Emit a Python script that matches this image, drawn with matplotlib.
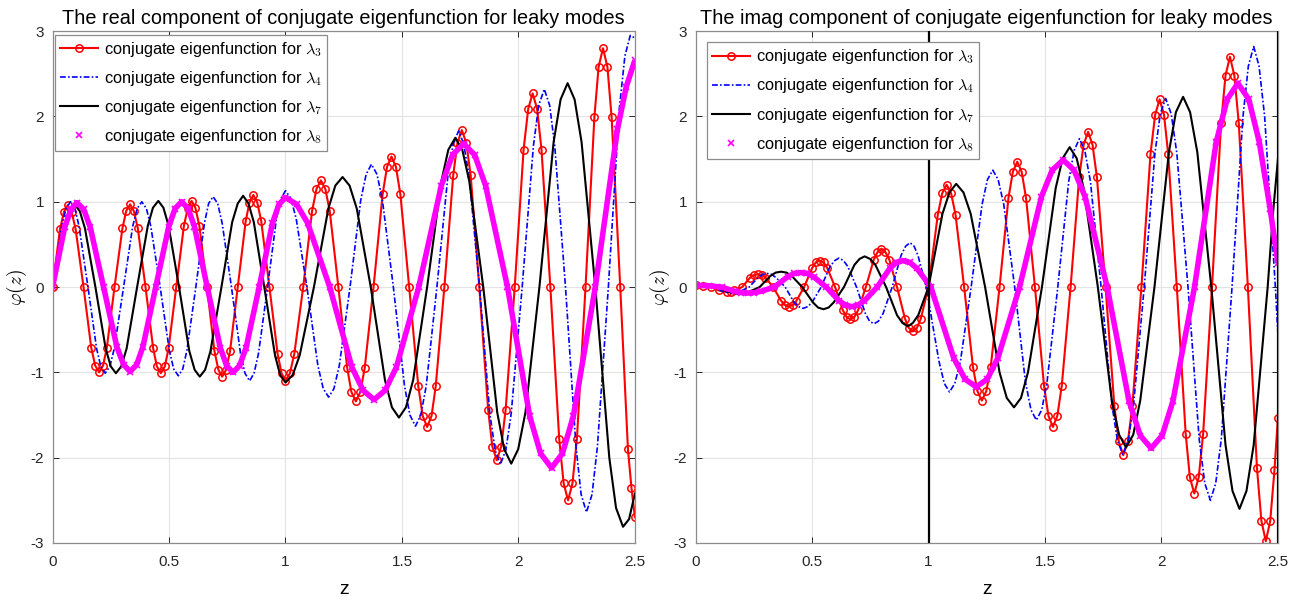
import matplotlib.pyplot as plt
from matplotlib.lines import Line2D

plt.rcParams['font.family'] = ['Liberation Sans', 'DejaVu Sans']
plt.rcParams['mathtext.fontset'] = 'cm'
plt.rcParams['axes.unicode_minus'] = False

# ---- axis setup values ----
x_ticks = [0, 0.5, 1, 1.5, 2, 2.5]
x_tick_labels = ['0', '0.5', '1', '1.5', '2', '2.5']
y_ticks = [-3, -2, -1, 0, 1, 2, 3]
y_tick_labels = ['-3', '-2', '-1', '0', '1', '2', '3']
interfaces = [1.0, 2.5]   # vertical lines in the imag panel

legend_labels = [r'conjugate eigenfunction for $\lambda_3$',
                 r'conjugate eigenfunction for $\lambda_4$',
                 r'conjugate eigenfunction for $\lambda_7$',
                 r'conjugate eigenfunction for $\lambda_8$']

# ---- real component ----
re_z3 = [0, 0.032, 0.049, 0.065, 0.082, 0.099, 0.133, 0.166, 0.183, 0.2,
         0.217, 0.233, 0.266, 0.3, 0.316, 0.333, 0.349, 0.366, 0.399, 0.432, 0.448, 0.465,
         0.482, 0.498, 0.531, 0.564, 0.581, 0.597, 0.613, 0.63, 0.663, 0.695, 0.712, 0.728,
         0.745, 0.762, 0.795, 0.829, 0.845, 0.862, 0.879, 0.896, 0.931, 0.966, 0.983, 1.0,
         1.019, 1.038, 1.076, 1.114, 1.133, 1.152, 1.171, 1.19, 1.227, 1.265, 1.283, 1.302,
         1.321, 1.34, 1.378, 1.417, 1.436, 1.455, 1.474, 1.493, 1.531, 1.57, 1.589, 1.608,
         1.627, 1.645, 1.682, 1.72, 1.738, 1.757, 1.776, 1.795, 1.832, 1.87, 1.888, 1.907,
         1.926, 1.945, 1.984, 2.022, 2.042, 2.061, 2.08, 2.099, 2.137, 2.175, 2.194, 2.213,
         2.232, 2.251, 2.288, 2.326, 2.344, 2.363, 2.382, 2.4, 2.437, 2.47, 2.485, 2.5]
re_v3 = [0, 0.68, 0.88, 0.96, 0.88, 0.68, 0, -0.71, -0.92, -1.0,
         -0.92, -0.71, 0, 0.69, 0.89, 0.97, 0.89, 0.69, 0, -0.72, -0.93, -1.01,
         -0.93, -0.72, 0, 0.72, 0.93, 1.01, 0.93, 0.72, 0, -0.75, -0.97, -1.05,
         -0.97, -0.75, 0, 0.77, 0.99, 1.08, 0.99, 0.77, 0, -0.78, -1.01, -1.1,
         -1.01, -0.78, 0, 0.89, 1.15, 1.25, 1.15, 0.89, 0, -0.95, -1.23, -1.34,
         -1.23, -0.95, 0, 1.09, 1.41, 1.53, 1.41, 1.09, 0, -1.16, -1.51, -1.64,
         -1.51, -1.16, 0, 1.31, 1.69, 1.84, 1.69, 1.31, 0, -1.44, -1.87, -2.03,
         -1.87, -1.44, 0, 1.61, 2.09, 2.27, 2.09, 1.61, 0, -1.78, -2.3, -2.5,
         -2.3, -1.78, 0, 1.99, 2.58, 2.8, 2.58, 1.99, 0, -1.9, -2.35, -2.7]

re_z4 = [0, 0.038, 0.058, 0.077, 0.096, 0.114, 0.152, 0.189, 0.207, 0.226,
         0.246, 0.265, 0.305, 0.344, 0.363, 0.383, 0.403, 0.422, 0.462, 0.501, 0.52, 0.54,
         0.559, 0.577, 0.615, 0.652, 0.67, 0.689, 0.709, 0.728, 0.768, 0.807, 0.826, 0.846,
         0.865, 0.884, 0.923, 0.961, 0.981, 1.0, 1.023, 1.046, 1.092, 1.139, 1.162, 1.185,
         1.208, 1.231, 1.277, 1.323, 1.346, 1.369, 1.393, 1.416, 1.463, 1.511, 1.534, 1.558,
         1.581, 1.604, 1.65, 1.697, 1.72, 1.743, 1.765, 1.788, 1.833, 1.877, 1.9, 1.922,
         1.946, 1.969, 2.016, 2.064, 2.087, 2.111, 2.134, 2.156, 2.202, 2.247, 2.269, 2.292,
         2.316, 2.339, 2.386, 2.433, 2.457, 2.48, 2.5]
re_v4 = [0, 0.7, 0.92, 1.0, 0.92, 0.71, 0, -0.72, -0.93, -1.01,
         -0.93, -0.72, 0, 0.71, 0.92, 1.0, 0.92, 0.71, 0, -0.74, -0.96, -1.04,
         -0.96, -0.74, 0, 0.75, 0.98, 1.06, 0.98, 0.75, 0, -0.78, -1.01, -1.1,
         -1.01, -0.78, 0, 0.8, 1.04, 1.13, 1.04, 0.8, 0, -0.92, -1.19, -1.29,
         -1.19, -0.92, 0, 1.02, 1.32, 1.44, 1.32, 1.02, 0, -1.16, -1.5, -1.63,
         -1.5, -1.16, 0, 1.3, 1.68, 1.83, 1.68, 1.3, 0, -1.48, -1.91, -2.08,
         -1.91, -1.48, 0, 1.65, 2.13, 2.32, 2.13, 1.65, 0, -1.87, -2.43, -2.64,
         -2.43, -1.87, 0, 2.09, 2.71, 2.95, 2.92]

re_z7 = [0, 0.047, 0.071, 0.095, 0.117, 0.139, 0.184, 0.228, 0.25, 0.272,
         0.295, 0.318, 0.363, 0.409, 0.431, 0.454, 0.476, 0.498, 0.543, 0.587, 0.61, 0.632,
         0.655, 0.678, 0.725, 0.771, 0.795, 0.818, 0.841, 0.864, 0.909, 0.955, 0.977, 1.0,
         1.031, 1.061, 1.122, 1.184, 1.214, 1.245, 1.275, 1.306, 1.366, 1.427, 1.457, 1.487,
         1.517, 1.548, 1.608, 1.669, 1.699, 1.729, 1.759, 1.789, 1.849, 1.909, 1.939, 1.969,
         1.999, 2.03, 2.09, 2.151, 2.181, 2.211, 2.241, 2.271, 2.33, 2.39, 2.419, 2.449,
         2.475, 2.5]
re_v7 = [0, 0.69, 0.89, 0.97, 0.89, 0.69, 0, -0.72, -0.93, -1.01,
         -0.93, -0.72, 0, 0.72, 0.93, 1.01, 0.93, 0.72, 0, -0.75, -0.97, -1.05,
         -0.97, -0.75, 0, 0.76, 0.98, 1.07, 0.98, 0.76, 0, -0.8, -1.03, -1.12,
         -1.03, -0.8, 0, 0.92, 1.19, 1.29, 1.19, 0.92, 0, -1.09, -1.41, -1.53,
         -1.41, -1.09, 0, 1.24, 1.61, 1.75, 1.61, 1.24, 0, -1.47, -1.9, -2.07,
         -1.9, -1.47, 0, 1.7, 2.2, 2.39, 2.2, 1.7, 0, -2.0, -2.59, -2.81,
         -2.72, -2.42]

re_z8 = [0, 0.052, 0.079, 0.105, 0.134, 0.162, 0.219, 0.276, 0.305, 0.333,
         0.361, 0.388, 0.443, 0.499, 0.526, 0.554, 0.582, 0.609, 0.664, 0.72, 0.747, 0.775,
         0.803, 0.831, 0.887, 0.944, 0.972, 1.0, 1.048, 1.095, 1.19, 1.285, 1.333, 1.38,
         1.428, 1.476, 1.572, 1.669, 1.717, 1.765, 1.812, 1.859, 1.953, 2.048, 2.095, 2.142,
         2.189, 2.236, 2.33, 2.425, 2.463, 2.5]
re_v8 = [0, 0.7, 0.91, 0.99, 0.91, 0.7, 0, -0.7, -0.91, -0.99,
         -0.91, -0.7, 0, 0.71, 0.92, 1.0, 0.92, 0.71, 0, -0.71, -0.92, -1.0,
         -0.92, -0.71, 0, 0.75, 0.97, 1.05, 0.97, 0.75, 0, -0.94, -1.21, -1.32,
         -1.21, -0.94, 0, 1.19, 1.55, 1.68, 1.55, 1.19, 0, -1.51, -1.95, -2.12,
         -1.95, -1.51, 0, 1.85, 2.35, 2.66]

# ---- imag component ----
im_z3 = [0, 0.034, 0.067, 0.1, 0.134, 0.151, 0.167, 0.2, 0.234, 0.25, 0.267,
         0.284, 0.3, 0.333, 0.367, 0.383, 0.4, 0.417, 0.433, 0.466, 0.5, 0.516, 0.533,
         0.55, 0.566, 0.599, 0.632, 0.648, 0.665, 0.682, 0.698, 0.731, 0.765, 0.781, 0.798,
         0.815, 0.832, 0.865, 0.899, 0.916, 0.933, 0.95, 0.967, 1.0, 1.04, 1.059, 1.078,
         1.097, 1.116, 1.153, 1.191, 1.21, 1.229, 1.248, 1.267, 1.305, 1.343, 1.362, 1.381,
         1.4, 1.419, 1.457, 1.496, 1.515, 1.534, 1.553, 1.572, 1.61, 1.647, 1.666, 1.685,
         1.704, 1.723, 1.76, 1.798, 1.817, 1.836, 1.856, 1.875, 1.914, 1.953, 1.973, 1.992,
         2.011, 2.029, 2.066, 2.104, 2.122, 2.141, 2.16, 2.179, 2.217, 2.256, 2.275, 2.294,
         2.313, 2.332, 2.371, 2.41, 2.429, 2.448, 2.467, 2.485, 2.5]
im_v3 = [0.02, 0.014, 0, -0.04, -0.06, -0.055, -0.04, 0, 0.11, 0.14, 0.15,
         0.14, 0.11, 0, -0.16, -0.21, -0.23, -0.21, -0.16, 0, 0.22, 0.29, 0.31,
         0.29, 0.22, 0, -0.27, -0.35, -0.38, -0.35, -0.27, 0, 0.32, 0.41, 0.45,
         0.41, 0.32, 0, -0.37, -0.48, -0.52, -0.48, -0.37, 0, 0.85, 1.1, 1.2,
         1.1, 0.85, 0, -0.94, -1.22, -1.33, -1.22, -0.94, 0, 1.04, 1.35, 1.47,
         1.35, 1.04, 0, -1.16, -1.51, -1.64, -1.51, -1.16, 0, 1.29, 1.67, 1.82,
         1.67, 1.29, 0, -1.4, -1.81, -1.97, -1.81, -1.4, 0, 1.56, 2.02, 2.2,
         2.02, 1.56, 0, -1.72, -2.23, -2.42, -2.23, -1.72, 0, 1.92, 2.48, 2.7,
         2.48, 1.92, 0, -2.12, -2.74, -2.98, -2.74, -2.15, -1.53]

im_z4 = [0, 0.038, 0.076, 0.114, 0.152, 0.171, 0.191, 0.23, 0.268, 0.288, 0.307,
         0.326, 0.346, 0.385, 0.423, 0.443, 0.462, 0.481, 0.5, 0.539, 0.577, 0.597, 0.616,
         0.635, 0.654, 0.691, 0.729, 0.747, 0.766, 0.785, 0.805, 0.844, 0.882, 0.902, 0.921,
         0.938, 0.955, 0.99, 1.045, 1.068, 1.09, 1.113, 1.137, 1.183, 1.23, 1.253, 1.276,
         1.299, 1.323, 1.37, 1.416, 1.44, 1.463, 1.486, 1.509, 1.555, 1.602, 1.625, 1.648,
         1.671, 1.695, 1.741, 1.788, 1.811, 1.834, 1.857, 1.88, 1.926, 1.972, 1.995, 2.018,
         2.042, 2.066, 2.114, 2.162, 2.186, 2.21, 2.233, 2.257, 2.303, 2.35, 2.373, 2.396,
         2.419, 2.443, 2.489, 2.5]
im_v4 = [0.02, 0.015, 0, -0.05, -0.07, -0.065, -0.05, 0, 0.11, 0.15, 0.16,
         0.15, 0.11, 0, -0.18, -0.23, -0.25, -0.23, -0.18, 0, 0.24, 0.31, 0.34,
         0.31, 0.24, 0, -0.31, -0.4, -0.43, -0.4, -0.31, 0, 0.37, 0.48, 0.52,
         0.48, 0.37, 0, -0.87, -1.13, -1.23, -1.13, -0.87, 0, 0.97, 1.26, 1.37,
         1.26, 0.97, 0, -1.11, -1.44, -1.56, -1.44, -1.11, 0, 1.24, 1.6, 1.74,
         1.6, 1.24, 0, -1.39, -1.8, -1.96, -1.8, -1.39, 0, 1.57, 2.03, 2.21,
         2.03, 1.57, 0, -1.78, -2.3, -2.5, -2.3, -1.78, 0, 2.0, 2.59, 2.82,
         2.59, 2.0, 0, -0.55]

im_z7 = [0, 0.046, 0.092, 0.138, 0.184, 0.207, 0.23, 0.275, 0.321, 0.344, 0.367,
         0.39, 0.413, 0.458, 0.504, 0.526, 0.549, 0.571, 0.593, 0.637, 0.682, 0.704, 0.726,
         0.749, 0.772, 0.818, 0.865, 0.888, 0.911, 0.933, 0.956, 1.0, 1.06, 1.09, 1.119,
         1.15, 1.181, 1.243, 1.305, 1.336, 1.367, 1.397, 1.427, 1.487, 1.546, 1.576, 1.606,
         1.636, 1.666, 1.727, 1.787, 1.818, 1.848, 1.879, 1.909, 1.97, 2.032, 2.062, 2.093,
         2.123, 2.154, 2.214, 2.275, 2.305, 2.335, 2.365, 2.396, 2.456, 2.48, 2.5]
im_v7 = [0.02, 0.015, 0, -0.055, -0.08, -0.075, -0.055, 0, 0.13, 0.17, 0.18,
         0.17, 0.13, 0, -0.18, -0.24, -0.26, -0.24, -0.18, 0, 0.26, 0.33, 0.36,
         0.33, 0.26, 0, -0.33, -0.42, -0.46, -0.42, -0.33, 0, 0.86, 1.11, 1.21,
         1.11, 0.86, 0, -1.0, -1.3, -1.41, -1.3, -1.0, 0, 1.16, 1.51, 1.64,
         1.51, 1.16, 0, -1.33, -1.73, -1.88, -1.73, -1.33, 0, 1.58, 2.05, 2.23,
         2.05, 1.58, 0, -1.85, -2.39, -2.6, -2.39, -1.85, 0, 0.9, 1.5]

im_z8 = [0, 0.056, 0.112, 0.168, 0.196, 0.224, 0.253, 0.281, 0.338, 0.395, 0.424, 0.452,
         0.479, 0.507, 0.561, 0.616, 0.643, 0.67, 0.697, 0.725, 0.78, 0.834, 0.862, 0.889,
         0.919, 0.95, 1.01, 1.108, 1.157, 1.205, 1.252, 1.298, 1.391, 1.485, 1.531, 1.578,
         1.625, 1.672, 1.767, 1.861, 1.909, 1.956, 2.003, 2.049, 2.142, 2.235, 2.282, 2.328,
         2.375, 2.42, 2.467, 2.5]
im_v8 = [0.02, 0.015, 0, -0.05, -0.065, -0.07, -0.065, -0.05, 0, 0.12, 0.16, 0.17,
         0.16, 0.12, 0, -0.16, -0.21, -0.23, -0.21, -0.16, 0, 0.22, 0.29, 0.31,
         0.29, 0.22, 0, -0.83, -1.08, -1.17, -1.08, -0.83, 0, 1.06, 1.37, 1.49,
         1.37, 1.06, 0, -1.34, -1.74, -1.89, -1.74, -1.34, 0, 1.7, 2.2, 2.39,
         2.2, 1.7, 0.91, 0.28]


def draw_panel(ax, curves, title, lines_at=None, legend_anchor=(0.005, 0.993)):
    (z3, v3), (z4, v4), (z7, v7), (z8, v8) = curves
    h3, = ax.plot(z3, v3, '-o', color=(1, 0, 0), lw=1.5, ms=5.3, mfc='none', mew=1.1)
    h4, = ax.plot(z4, v4, color=(0, 0, 1), lw=1.2, ls=(0, (3.5, 1.3, 1, 1.3)))
    h7, = ax.plot(z7, v7, color='k', lw=1.5)
    # lambda_8 is drawn with markers only in the original; a wide band mimics their density
    ax.plot(z8, v8, color=(1, 0, 1), lw=4, solid_capstyle='butt')
    ax.plot(z8, v8, ls='none', marker='x', color=(1, 0, 1), ms=4, mew=1.2)
    h8 = Line2D([], [], ls='none', marker='x', color=(1, 0, 1), ms=4, mew=1.2)

    if lines_at:
        for xv in lines_at:
            ax.axvline(xv, color='k', lw=1.6, zorder=3)

    ax.set_xlim(0, 2.5)
    ax.set_ylim(-3, 3)
    ax.set_xticks(x_ticks)
    ax.set_xticklabels(x_tick_labels)
    ax.set_yticks(y_ticks)
    ax.set_yticklabels(y_tick_labels)
    ax.grid(True, color='#e3e3e3', lw=0.8)
    ax.set_axisbelow(True)
    ax.tick_params(direction='in', length=4, width=0.7, top=True, right=True,
                   labelsize=11, colors='#262626')
    ax.tick_params(axis='x', pad=9)
    ax.tick_params(axis='y', pad=6)
    for s in ax.spines.values():
        s.set_color('#8c8c8c')
        s.set_linewidth(0.9)
    ax.set_title(title, fontsize=14.3, pad=5)
    ax.set_xlabel('z', fontsize=14, labelpad=8)
    ax.set_ylabel(r'$\varphi(z)$', fontsize=14, labelpad=1)

    leg = ax.legend([h3, h4, h7, h8], legend_labels, loc='upper left',
                    bbox_to_anchor=legend_anchor, fontsize=11.8, frameon=True,
                    fancybox=False, framealpha=1, edgecolor='#8c8c8c',
                    handlelength=2.3, handletextpad=0.35, labelspacing=0.62,
                    borderpad=0.3, borderaxespad=0.0)
    leg.get_frame().set_linewidth(0.9)


fig = plt.figure(figsize=(13.04, 6.05), dpi=100)
ax1 = fig.add_axes([0.0403, 0.1025, 0.4466, 0.846])
ax2 = fig.add_axes([0.5334, 0.1025, 0.4466, 0.846])

draw_panel(ax1, [(re_z3, re_v3), (re_z4, re_v4), (re_z7, re_v7), (re_z8, re_v8)],
           'The real component of conjugate eigenfunction for leaky modes')
draw_panel(ax2, [(im_z3, im_v3), (im_z4, im_v4), (im_z7, im_v7), (im_z8, im_v8)],
           'The imag component of conjugate eigenfunction for leaky modes',
           lines_at=interfaces, legend_anchor=(0.02, 0.978))

fig.savefig('out.png', dpi=100)
